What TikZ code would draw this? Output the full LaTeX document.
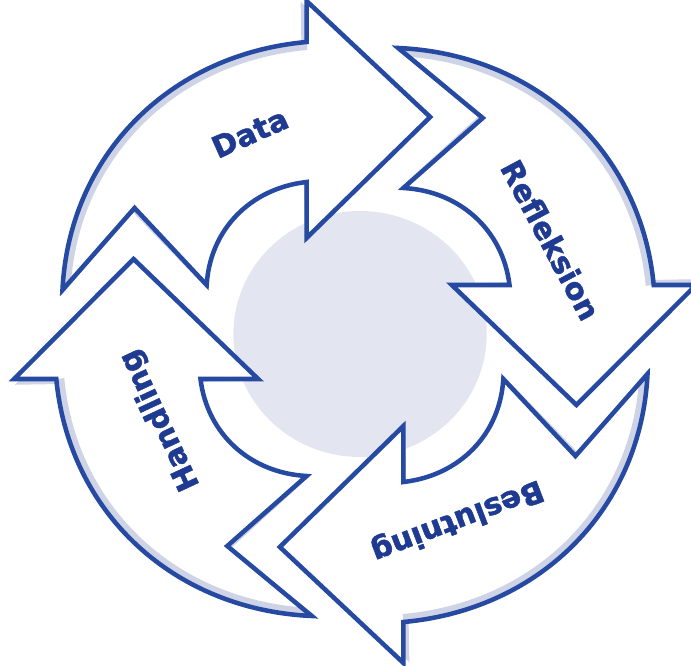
\documentclass[tikz,border=0pt]{standalone}
\usepackage{fontspec}
\newfontfamily\labelfont[FakeBold=1.6]{DejaVu Sans}

\definecolor{arrowblue}{RGB}{38,74,162}
\definecolor{labelblue}{RGB}{30,58,145}
\definecolor{shadowgrey}{RGB}{206,211,230}
\definecolor{hubgrey}{RGB}{227,230,241}

% one arrow of the cycle (the Data one), the others are turned copies
\newcommand{\cyclearrow}{(-284,42) to[bend left=41] (-47,290) -- (-47,331) -- (73,215) -- (-47,94) -- (-47,150) to[bend right=40] (-144,47) -- (-214,124) -- cycle}
\newcommand{\outerrim}{(-284,42) to[bend left=41] (-47,290)}

\begin{document}
\begin{tikzpicture}[x=0.75pt, y=0.75pt, xscale=1.03,
    arrowline/.style={draw=arrowblue, line width=3.4pt, line join=miter},
    rimshade/.style={draw=shadowgrey, line width=12pt},
    steplabel/.style={text=labelblue, font=\labelfont\bfseries\fontsize{22.5}{27}\selectfont, inner sep=0pt}]
    \useasboundingbox (-344.66,-334) rectangle (326.21,332);
    \fill[hubgrey] (4.9,-2) circle[radius=123];
    \foreach \a in {0,-90,-180,-270} {
        \begin{scope}[rotate=\a]
            \fill[shadowgrey, rotate=1] \cyclearrow;
            \fill[white] \cyclearrow;
            \begin{scope}
                \clip \cyclearrow;
                \draw[rimshade] \outerrim;
            \end{scope}
            \draw[arrowline] \cyclearrow;
        \end{scope}
    }
    \node[steplabel, rotate=24] (data) at (-102,199) {Data};
    \node[steplabel, rotate=-62] (refleksion) at (190,92) {Refleksion};
    \node[steplabel, rotate=201] (beslutning) at (99,-188) {Beslutning};
    \node[steplabel, rotate=115] (handling) at (-189,-88) {Handling};
\end{tikzpicture}
\end{document}
